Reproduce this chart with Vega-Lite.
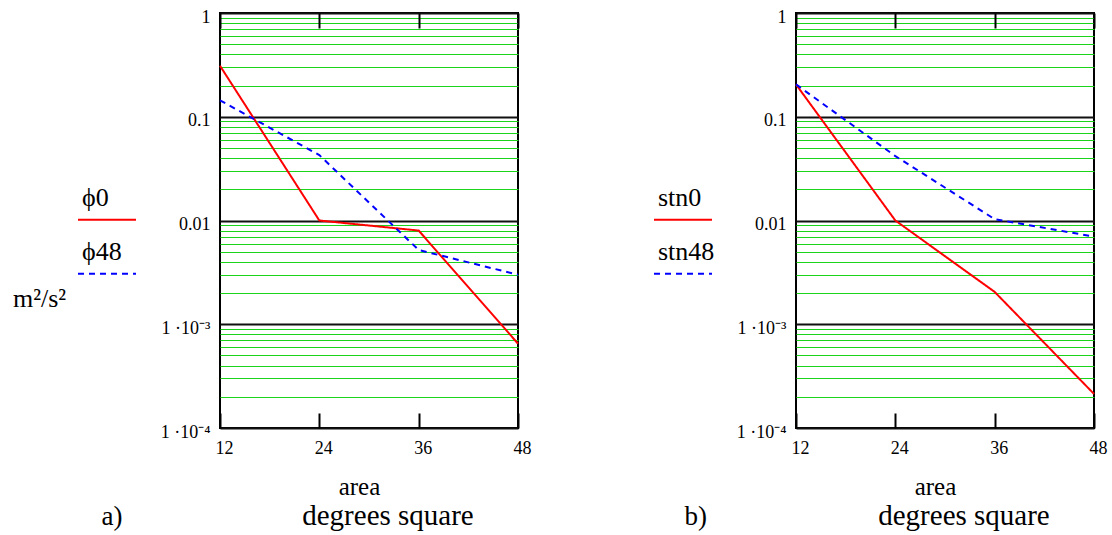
{
  "$schema": "https://vega.github.io/schema/vega-lite/v6.json",
  "background": "white",
  "padding": {"left": 12, "top": 7, "right": 5, "bottom": 3},
  "bounds": "flush",
  "spacing": 278,
  "datasets": {
    "a": [
      {"series": "ϕ0", "area": 12, "value": 0.31},
      {"series": "ϕ0", "area": 24, "value": 0.01},
      {"series": "ϕ0", "area": 36, "value": 0.008},
      {"series": "ϕ0", "area": 48, "value": 0.00065},
      {"series": "ϕ48", "area": 12, "value": 0.144},
      {"series": "ϕ48", "area": 24, "value": 0.0427},
      {"series": "ϕ48", "area": 36, "value": 0.0052},
      {"series": "ϕ48", "area": 48, "value": 0.003}
    ],
    "b": [
      {"series": "stn0", "area": 12, "value": 0.205},
      {"series": "stn0", "area": 24, "value": 0.01},
      {"series": "stn0", "area": 36, "value": 0.00205},
      {"series": "stn0", "area": 48, "value": 0.000213},
      {"series": "stn48", "area": 12, "value": 0.205},
      {"series": "stn48", "area": 24, "value": 0.0418},
      {"series": "stn48", "area": 36, "value": 0.0103},
      {"series": "stn48", "area": 48, "value": 0.007}
    ]
  },
  "hconcat": [
    {
      "width": 298, "height": 415,
      "data": {"name": "a"},
      "resolve": {"axis": {"x": "independent", "y": "independent"}},
      "layer": [
        {
          "transform": [{"filter": "datum.series == 'ϕ0'"}],
          "mark": {"type": "line", "strokeWidth": 2},
          "encoding": {
            "x": {"field": "area", "type": "quantitative", "scale": {"domain": [12, 48], "nice": false, "zero": false},
              "axis": {"orient": "bottom", "values": [12, 24, 36, 48], "tickSize": -15, "tickWidth": 2, "tickColor": "black", "labelPadding": 26, "labelOffset": 4, "labelFlush": false, "labelFontSize": 18, "labelColor": "black", "domain": false, "grid": false,
                "title": "area", "titleX": 139, "titleY": 66, "titleBaseline": "alphabetic", "titleAlign": "center", "titleFontWeight": "normal", "titleFontSize": 25, "titleColor": "black"}},
            "y": {"field": "value", "type": "quantitative", "scale": {"type": "log", "domain": [0.0001, 1], "nice": false},
              "axis": {"orient": "left", "values": [1, 0.1, 0.01, 0.001, 0.0001], "labelExpr": "datum.value > 0.5 ? '1' : datum.value > 0.05 ? '0.1' : datum.value > 0.005 ? '0.01' : datum.value > 0.0005 ? '1 ·10⁻³   ' : '1 ·10⁻⁴   '",
                "labelFontSize": 18, "labelColor": "black", "labelFlush": false,
                "grid": true, "gridColor": "#111111", "gridWidth": 2, "ticks": false, "domain": false, "labelPadding": 10, "labelOffset": 4, "labelBaseline": "middle", "title": null}},
            "color": {"field": "series", "type": "nominal", "scale": {"domain": ["ϕ0", "ϕ48"], "range": ["#ff0000", "#0000ff"]},
              "legend": {"orient": "none", "legendX": -207, "legendY": 168, "title": "m²/s²", "titleOrient": "bottom", "titleAnchor": "start", "titlePadding": 8,
                "titleFontSize": 26, "titleFontWeight": "normal", "titleColor": "black",
                "labelFontSize": 26, "labelColor": "black",
                "symbolType": "M-1,0.3H1", "symbolSize": 3364, "symbolStrokeWidth": 2, "symbolOffset": 64, "labelOffset": -55, "labelBaseline": "bottom", "rowPadding": 11}},
            "strokeDash": {"field": "series", "type": "nominal", "scale": {"domain": ["ϕ0", "ϕ48"], "range": [[1, 0], [6, 5]]},
              "legend": {"orient": "none", "legendX": -207, "legendY": 168, "title": "m²/s²", "titleOrient": "bottom", "titleAnchor": "start", "titlePadding": 8,
                "titleFontSize": 26, "titleFontWeight": "normal", "titleColor": "black",
                "labelFontSize": 26, "labelColor": "black",
                "symbolType": "M-1,0.3H1", "symbolSize": 3364, "symbolStrokeWidth": 2, "symbolOffset": 64, "labelOffset": -55, "labelBaseline": "bottom", "rowPadding": 11}}
          }
        },
        {
          "transform": [{"filter": "datum.series == 'ϕ48'"}],
          "mark": {"type": "line", "strokeWidth": 2},
          "encoding": {
            "x": {"field": "area", "type": "quantitative", "scale": {"domain": [12, 48], "nice": false, "zero": false},
              "axis": {"orient": "top", "values": [12, 24, 36, 48], "labels": false, "tickSize": -15, "tickWidth": 2, "tickColor": "black", "domain": false, "grid": false,
                "title": "degrees square", "titleX": 167.5, "titleY": 511, "titleBaseline": "alphabetic", "titleAlign": "center", "titleFontWeight": "normal", "titleFontSize": 29, "titleColor": "black"}},
            "y": {"field": "value", "type": "quantitative", "scale": {"type": "log", "domain": [0.0001, 1], "nice": false},
              "axis": {"orient": "left", "values": [0.9, 0.8, 0.7, 0.6, 0.5, 0.4, 0.3, 0.2, 0.09, 0.08, 0.07, 0.06, 0.05, 0.04, 0.03, 0.02, 0.009, 0.008, 0.007, 0.006, 0.005, 0.004, 0.003, 0.002, 0.0009, 0.0008, 0.0007, 0.0006, 0.0005, 0.0004, 0.0003, 0.0002],
                "labels": false, "ticks": false, "domain": false, "grid": true, "gridColor": "#19d419", "gridWidth": 1,
                "title": "a)", "titleAngle": 0, "titleX": -119, "titleY": 511, "titleAlign": "left", "titleBaseline": "alphabetic", "titleFontWeight": "normal", "titleFontSize": 27, "titleColor": "black"}},
            "color": {"field": "series", "type": "nominal", "scale": {"domain": ["ϕ0", "ϕ48"], "range": ["#ff0000", "#0000ff"]}},
            "strokeDash": {"field": "series", "type": "nominal", "scale": {"domain": ["ϕ0", "ϕ48"], "range": [[1, 0], [6, 5]]}}
          }
        }
      ]
    },
    {
      "width": 298, "height": 415,
      "data": {"name": "b"},
      "resolve": {"axis": {"x": "independent", "y": "independent"}},
      "layer": [
        {
          "transform": [{"filter": "datum.series == 'stn0'"}],
          "mark": {"type": "line", "strokeWidth": 2},
          "encoding": {
            "x": {"field": "area", "type": "quantitative", "scale": {"domain": [12, 48], "nice": false, "zero": false},
              "axis": {"orient": "bottom", "values": [12, 24, 36, 48], "tickSize": -15, "tickWidth": 2, "tickColor": "black", "labelPadding": 26, "labelOffset": 4, "labelFlush": false, "labelFontSize": 18, "labelColor": "black", "domain": false, "grid": false,
                "title": "area", "titleX": 139, "titleY": 66, "titleBaseline": "alphabetic", "titleAlign": "center", "titleFontWeight": "normal", "titleFontSize": 25, "titleColor": "black"}},
            "y": {"field": "value", "type": "quantitative", "scale": {"type": "log", "domain": [0.0001, 1], "nice": false},
              "axis": {"orient": "left", "values": [1, 0.1, 0.01, 0.001, 0.0001], "labelExpr": "datum.value > 0.5 ? '1' : datum.value > 0.05 ? '0.1' : datum.value > 0.005 ? '0.01' : datum.value > 0.0005 ? '1 ·10⁻³   ' : '1 ·10⁻⁴   '",
                "labelFontSize": 18, "labelColor": "black", "labelFlush": false,
                "grid": true, "gridColor": "#111111", "gridWidth": 2, "ticks": false, "domain": false, "labelPadding": 10, "labelOffset": 4, "labelBaseline": "middle", "title": null}},
            "color": {"field": "series", "type": "nominal", "scale": {"domain": ["stn0", "stn48"], "range": ["#ff0000", "#0000ff"]},
              "legend": {"orient": "none", "legendX": -143, "legendY": 168, "title": null,
                "labelFontSize": 26, "labelColor": "black",
                "symbolType": "M-1,0.3H1", "symbolSize": 3364, "symbolStrokeWidth": 2, "symbolOffset": 0, "labelOffset": -55, "labelBaseline": "bottom", "rowPadding": 11}},
            "strokeDash": {"field": "series", "type": "nominal", "scale": {"domain": ["stn0", "stn48"], "range": [[1, 0], [6, 5]]},
              "legend": {"orient": "none", "legendX": -143, "legendY": 168, "title": null,
                "labelFontSize": 26, "labelColor": "black",
                "symbolType": "M-1,0.3H1", "symbolSize": 3364, "symbolStrokeWidth": 2, "symbolOffset": 0, "labelOffset": -55, "labelBaseline": "bottom", "rowPadding": 11}}
          }
        },
        {
          "transform": [{"filter": "datum.series == 'stn48'"}],
          "mark": {"type": "line", "strokeWidth": 2},
          "encoding": {
            "x": {"field": "area", "type": "quantitative", "scale": {"domain": [12, 48], "nice": false, "zero": false},
              "axis": {"orient": "top", "values": [12, 24, 36, 48], "labels": false, "tickSize": -15, "tickWidth": 2, "tickColor": "black", "domain": false, "grid": false,
                "title": "degrees square", "titleX": 167.5, "titleY": 511, "titleBaseline": "alphabetic", "titleAlign": "center", "titleFontWeight": "normal", "titleFontSize": 29, "titleColor": "black"}},
            "y": {"field": "value", "type": "quantitative", "scale": {"type": "log", "domain": [0.0001, 1], "nice": false},
              "axis": {"orient": "left", "values": [0.9, 0.8, 0.7, 0.6, 0.5, 0.4, 0.3, 0.2, 0.09, 0.08, 0.07, 0.06, 0.05, 0.04, 0.03, 0.02, 0.009, 0.008, 0.007, 0.006, 0.005, 0.004, 0.003, 0.002, 0.0009, 0.0008, 0.0007, 0.0006, 0.0005, 0.0004, 0.0003, 0.0002],
                "labels": false, "ticks": false, "domain": false, "grid": true, "gridColor": "#19d419", "gridWidth": 1,
                "title": "b)", "titleAngle": 0, "titleX": -112, "titleY": 511, "titleAlign": "left", "titleBaseline": "alphabetic", "titleFontWeight": "normal", "titleFontSize": 27, "titleColor": "black"}},
            "color": {"field": "series", "type": "nominal", "scale": {"domain": ["stn0", "stn48"], "range": ["#ff0000", "#0000ff"]}},
            "strokeDash": {"field": "series", "type": "nominal", "scale": {"domain": ["stn0", "stn48"], "range": [[1, 0], [6, 5]]}}
          }
        }
      ]
    }
  ],
  "resolve": {"scale": {"color": "independent", "strokeDash": "independent"}, "legend": {"color": "independent", "strokeDash": "independent"}},
  "config": {
    "font": "Times New Roman, Liberation Serif, serif",
    "view": {"stroke": "black", "strokeWidth": 2},
    "style": {"guide-label": {"font": "Times New Roman, Liberation Serif, serif"}, "guide-title": {"font": "Times New Roman, Liberation Serif, serif"}},
    "axis": {"labelFont": "Times New Roman, Liberation Serif, serif", "titleFont": "Times New Roman, Liberation Serif, serif"},
    "legend": {"labelFont": "Times New Roman, Liberation Serif, serif", "titleFont": "Times New Roman, Liberation Serif, serif", "labelLimit": 300, "padding": 0, "direction": "vertical"}
  }
}
